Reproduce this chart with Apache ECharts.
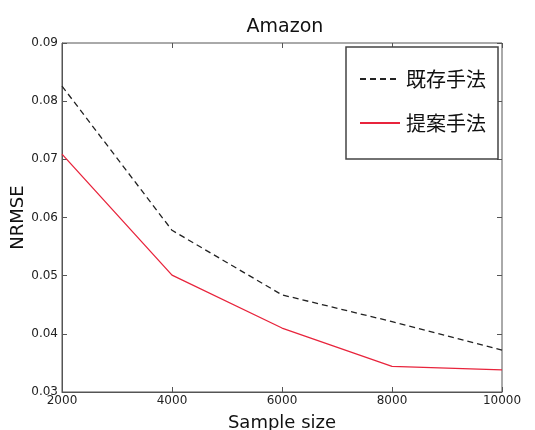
<!DOCTYPE html>
<html><head><meta charset="utf-8">
<script src="https://cdn.jsdelivr.net/npm/echarts@6/dist/echarts.min.js"></script>
<style>html,body{margin:0;padding:0;background:#fff}#c{width:535px;height:430px}</style>
</head><body><div id="c"></div>
<script>
const sampleSizes = [2000, 4000, 6000, 8000, 10000];
const existingNRMSE = [0.0826, 0.0578, 0.0467, 0.0421, 0.0372];
const proposedNRMSE = [0.0709, 0.0501, 0.0410, 0.0344, 0.0338];
const seriesNames = ['既存手法', '提案手法'];
const xTicks = [2000, 4000, 6000, 8000, 10000];
const yTicks = [0.03, 0.04, 0.05, 0.06, 0.07, 0.08, 0.09];

const font = '"DejaVu Sans", "Noto Sans CJK JP", sans-serif';
const chart = echarts.init(document.getElementById('c'));
const pair = (xs, ys) => xs.map((x, i) => [x, ys[i]]);
const tickStyle = { show: true, inside: true, length: 5, lineStyle: { color: '#555' } };
chart.setOption({
  animation: false,
  textStyle: { fontFamily: font },
  title: { text: 'Amazon', left: 280, top: 13, textAlign: 'center',
    textStyle: { fontFamily: font, fontWeight: 'normal', fontSize: 19, color: '#111' } },
  grid: { left: 62, right: 33, top: 43, bottom: 38, show: true, borderColor: '#555', borderWidth: 1,
    containLabel: false, outerBoundsMode: 'none' },
  legend: {
    right: 37, top: 47, orient: 'vertical', width: 149,
    padding: [22, 12, 26, 13], itemGap: 24, itemWidth: 40, itemHeight: 20,
    itemStyle: { opacity: 0 },
    backgroundColor: '#fff', borderColor: '#444', borderWidth: 1.5,
    textStyle: { fontFamily: '"Noto Sans CJK JP", sans-serif', fontSize: 20, color: '#111', padding: [0, 0, 0, 1] },
    data: seriesNames
  },
  xAxis: [{
    type: 'value', min: xTicks[0], max: xTicks[xTicks.length - 1], interval: 2000,
    name: 'Sample size', nameLocation: 'middle', nameGap: 22, nameMoveOverlap: false,
    nameTextStyle: { fontFamily: font, fontSize: 18, color: '#111' },
    axisLine: { show: true, lineStyle: { color: '#555' } }, axisTick: tickStyle,
    axisLabel: { fontSize: 12, color: '#222', margin: 3, fontFamily: font, formatter: v => String(v) },
    splitLine: { show: false }
  }, {
    type: 'value', position: 'top', min: xTicks[0], max: xTicks[xTicks.length - 1], interval: 2000,
    axisLine: { show: false }, axisTick: tickStyle, axisLabel: { show: false }, splitLine: { show: false }
  }],
  yAxis: [{
    type: 'value', min: yTicks[0], max: yTicks[yTicks.length - 1], interval: 0.01,
    name: 'NRMSE', nameLocation: 'middle', nameGap: 35, nameMoveOverlap: false,
    nameTextStyle: { fontFamily: font, fontSize: 18, color: '#111' },
    axisLine: { show: true, lineStyle: { color: '#555' } }, axisTick: tickStyle,
    axisLabel: { fontSize: 12, color: '#222', margin: 4, fontFamily: font, formatter: v => v.toFixed(2) },
    splitLine: { show: false }
  }, {
    type: 'value', position: 'right', min: yTicks[0], max: yTicks[yTicks.length - 1], interval: 0.01,
    axisLine: { show: false }, axisTick: tickStyle, axisLabel: { show: false }, splitLine: { show: false }
  }],
  series: [{
    name: seriesNames[0], type: 'line', symbol: 'none', data: pair(sampleSizes, existingNRMSE),
    lineStyle: { color: '#222', width: 1.3, type: [6, 4] }, itemStyle: { color: '#222' }
  }, {
    name: seriesNames[1], type: 'line', symbol: 'none', data: pair(sampleSizes, proposedNRMSE),
    lineStyle: { color: '#e8243c', width: 1.3 }, itemStyle: { color: '#e8243c' }
  }]
});
</script></body></html>
